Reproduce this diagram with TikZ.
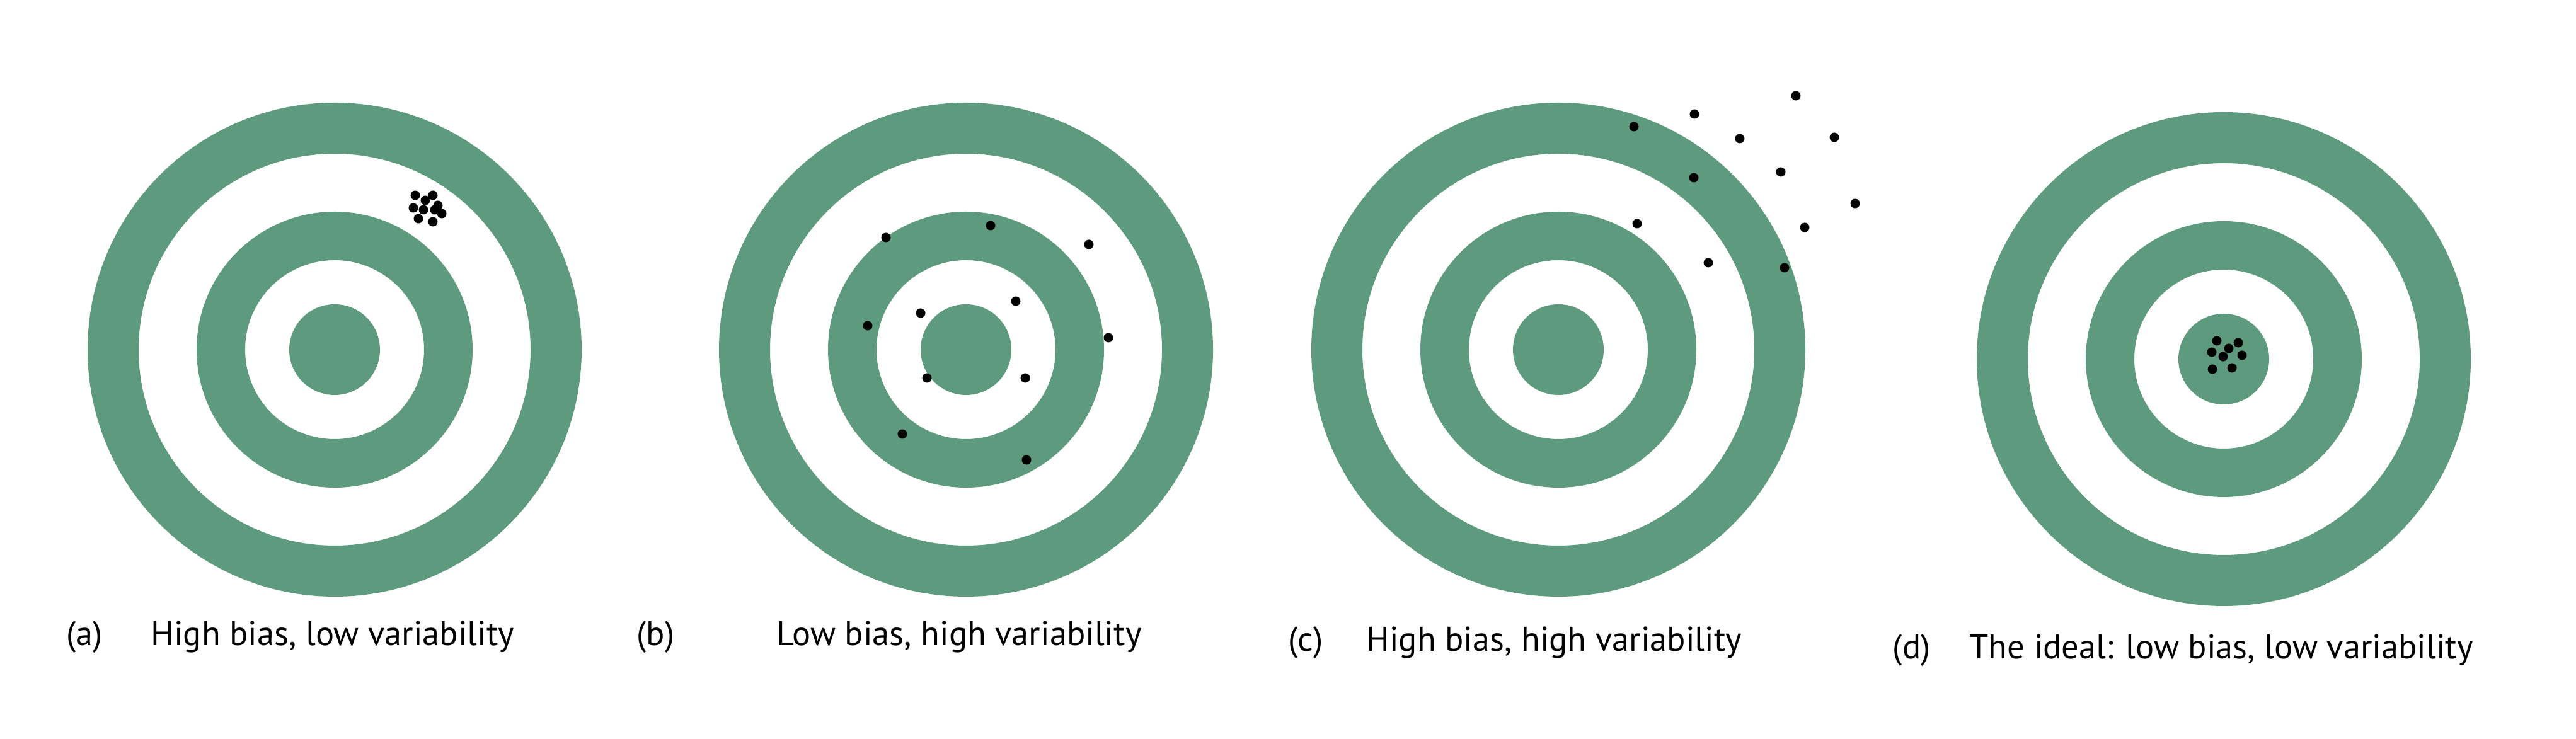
\documentclass[tikz,border=0pt]{standalone}
\usepackage{fontspec}
\setmainfont{PT Sans}
\usetikzlibrary{calc}
\definecolor{targetgreen}{RGB}{94,154,125}
\tikzset{
	rings/.style={fill=targetgreen,even odd rule},
	shot/.style={fill=black},
	caption/.style={anchor=base west,inner sep=0pt,font=\fontsize{15.5}{18}\selectfont}
}
\begin{document}
\begin{tikzpicture}
				\useasboundingbox (0,0) rectangle (40.88,11.73);
				\coordinate (A) at (5.31,6.18);
				\coordinate (B) at (15.33,6.18);
				\coordinate (C) at (24.73,6.18);
				\coordinate (D) at (35.29,6.03);

				\foreach \c in {A,B,C,D}
					\fill[rings] (\c) circle (3.92) circle (3.11) circle (2.19) circle (1.42) circle (0.72);

				% shots on each target
				\foreach \p in {(6.59,8.63),(6.87,8.63),(6.75,8.55),(6.56,8.43),(6.72,8.40),(6.90,8.40),(6.95,8.47),(7.01,8.34),(6.64,8.26),(6.87,8.21)}
					\fill[shot] \p circle (0.075);
				\foreach \p in {(14.06,7.96),(15.72,8.15),(17.28,7.85),(16.12,6.95),(14.61,6.76),(13.77,6.56),(17.59,6.37),(14.71,5.73),(16.27,5.73),(14.32,4.84),(16.29,4.43)}
					\fill[shot] \p circle (0.075);
				\foreach \p in {(28.50,10.21),(26.89,9.92),(25.93,9.72),(27.61,9.53),(29.11,9.55),(26.88,8.91),(28.26,9.00),(29.44,8.50),(25.98,8.18),(28.64,8.12),(27.11,7.56),(28.32,7.48)}
					\fill[shot] \p circle (0.075);
				\foreach \p in {(35.18,6.32),(35.52,6.29),(35.37,6.20),(35.10,6.14),(35.28,6.07),(35.58,6.09),(35.11,5.87),(35.42,5.89)}
					\fill[shot] \p circle (0.075);

				\node[caption] (la) at (1.05,1.48) {(a)};
				\node[caption] (ta) at (2.39,1.48) {High bias, low variability};
				\node[caption] (lb) at (10.10,1.48) {(b)};
				\node[caption] (tb) at (12.32,1.48) {Low bias, high variability};
				\node[caption] (lc) at (20.44,1.39) {(c)};
				\node[caption] (tc) at (21.68,1.39) {High bias, high variability};
				\node[caption] (ld) at (30.03,1.27) {(d)};
				\node[caption] (td) at (31.25,1.27) {The ideal: low bias, low variability};
			\end{tikzpicture}
\end{document}
